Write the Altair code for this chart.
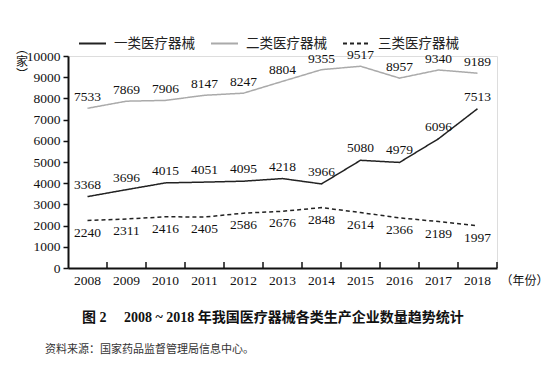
import altair as alt
import pandas as pd

years = ["2008", "2009", "2010", "2011", "2012", "2013", "2014", "2015", "2016", "2017", "2018"]
class1 = [3368, 3696, 4015, 4051, 4095, 4218, 3966, 5080, 4979, 6096, 7513]
class2 = [7533, 7869, 7906, 8147, 8247, 8804, 9355, 9517, 8957, 9340, 9189]
class3 = [2240, 2311, 2416, 2405, 2586, 2676, 2848, 2614, 2366, 2189, 1997]
series_names = ["一类医疗器械", "二类医疗器械", "三类医疗器械"]
y_ticks = [0, 1000, 2000, 3000, 4000, 5000, 6000, 7000, 8000, 9000, 10000]
y_title = "︵\n家\n︶"
x_title = "（年份）"
caption = "图 2\u2003 2008 ~ 2018 年我国医疗器械各类生产企业数量趋势统计"
source = "资料来源：国家药品监督管理局信息中心。"

rows = []
for name, vals in zip(series_names, [class1, class2, class3]):
    for yr, v in zip(years, vals):
        rows.append({"year": yr, "series": name, "value": v})
df = pd.DataFrame(rows)

FONT = "'Liberation Serif', 'Noto Sans CJK SC', serif"
W, H = 429, 212

xscale = alt.Scale(type="band", domain=years, paddingInner=0, paddingOuter=0)
yscale = alt.Scale(domain=[0, 10000], nice=False)

x_axis = alt.Axis(
    title=x_title, labelAngle=0, ticks=False, domainWidth=2, domainColor="#111",
    labelFont=FONT, labelFontSize=13.5, labelColor="#111", labelPadding=5,
    titleX=456, titleY=12, titleAlign="center", titleBaseline="middle",
    titleFont=FONT, titleFontSize=12, titleFontWeight="normal", titleColor="#111",
)
y_axis = alt.Axis(
    values=y_ticks, title=None,
    grid=False, tickSize=5, tickWidth=1.5, tickColor="#111",
    domainWidth=2, domainColor="#111", labelFont=FONT, labelFontSize=13.5,
    labelColor="#111", labelPadding=3, format="d",
)

leg = alt.Legend(
    title=None, orient="none", legendX=10, legendY=-27, direction="horizontal",
    symbolType="stroke", symbolSize=729, symbolStrokeWidth=2, gridAlign="none",
    labelFont=FONT, labelFontSize=13.5, labelColor="#222", columnPadding=12, labelOffset=7,
)

x_enc = alt.X("year:O", scale=xscale, axis=x_axis)
y_enc = alt.Y("value:Q", scale=yscale, axis=y_axis)

base = alt.Chart(df)

lines = base.mark_line(strokeWidth=1.5).encode(
    x=x_enc,
    y=y_enc,
    color=alt.Color("series:N", scale=alt.Scale(domain=series_names, range=["#222222", "#aaaaaa", "#222222"]), legend=leg),
    strokeDash=alt.StrokeDash("series:N", scale=alt.Scale(domain=series_names, range=[[1, 0], [1, 0], [4, 3]]), legend=leg),
)

def labels(name, dy):
    return base.transform_filter(alt.datum.series == name).mark_text(
        dy=dy, font=FONT, fontSize=13.5, color="#111"
    ).encode(x=x_enc, y=y_enc, text=alt.Text("value:Q", format="d"))

ticks = alt.Chart(pd.DataFrame({"year": years})).mark_rule(color="#111", strokeWidth=1.5).encode(
    x=alt.X("year:O", scale=xscale, axis=x_axis, bandPosition=1),
    y=alt.value(H),
    y2=alt.value(H - 6),
)

ytitle = alt.Chart(alt.Data(values=[{"t": y_title}])).mark_text(
    font=FONT, fontSize=12, align="center", baseline="top", lineBreak="\n", lineHeight=13, color="#111"
).encode(x=alt.value(22 - 68), y=alt.value(44 - 56), text="t:N")

cap = alt.Chart(alt.Data(values=[{"t": caption}])).mark_text(
    font=FONT, fontSize=14, fontWeight="bold", align="left", baseline="middle", color="#111"
).encode(x=alt.value(82 - 68), y=alt.value(318 - 56), text="t:N")

src = alt.Chart(alt.Data(values=[{"t": source}])).mark_text(
    font=FONT, fontSize=11, align="left", baseline="middle", color="#333"
).encode(x=alt.value(45 - 68), y=alt.value(350 - 56), text="t:N")

chart = alt.layer(
    lines, labels(series_names[0], -12), labels(series_names[1], -11), labels(series_names[2], 12),
    ticks, ytitle, cap, src,
).properties(
    width=W, height=H,
    autosize=alt.AutoSizeParams(type="none"),
    padding={"left": 60, "top": 48, "right": 55, "bottom": 92},
).configure_view(stroke=None).configure(background="white")

chart.save("out.html", embed_options={"renderer": "svg", "actions": False})
